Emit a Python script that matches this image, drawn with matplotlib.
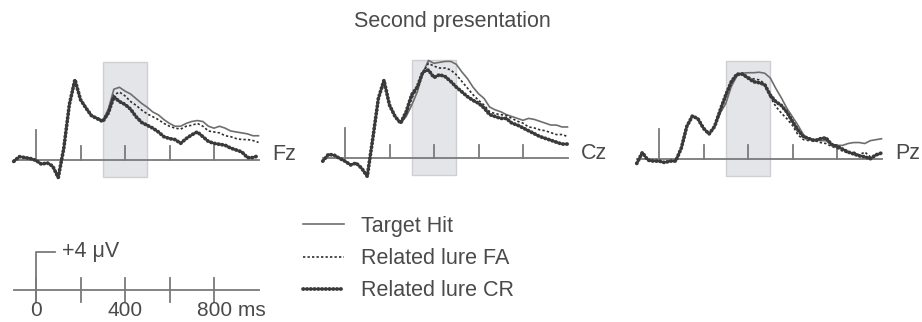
import numpy as np
import matplotlib
matplotlib.use("Agg")
import matplotlib.pyplot as plt
from matplotlib.lines import Line2D

plt.rcParams['font.family'] = ['Liberation Sans', 'DejaVu Sans']

# time grid (ms) and ERP amplitudes (uV)
times = np.arange(-100, 1001, 25)

fz_hit = [-0.2, 0.3, 0.2, 0.1, -0.1, -0.5, -0.35, -0.7, -1.9, 1.2, 5.8, 8.4, 6.3, 5.4, 4.6, 4.4, 4.1,
          5.3, 7.4, 7.6, 7.2, 6.9, 6.4, 5.9, 5.5, 5.0, 4.7, 4.2, 3.8, 3.5, 3.5, 3.8, 4.0, 4.1, 4.0,
          3.5, 3.3, 3.5, 3.3, 3.0, 2.9, 2.8, 2.7, 2.5, 2.5]
fz_fa = [-0.2, 0.3, 0.2, 0.1, -0.1, -0.5, -0.35, -0.7, -1.9, 1.2, 5.8, 8.4, 6.3, 5.4, 4.6, 4.4, 4.1,
         5.0, 6.8, 7.1, 6.7, 6.1, 5.7, 5.2, 4.8, 4.5, 4.2, 3.8, 3.5, 3.3, 3.2, 3.5, 3.6, 3.8, 3.5,
         3.0, 2.9, 2.8, 2.5, 2.4, 2.2, 2.1, 2.1, 2.0, 1.8]
fz_cr = [-0.2, 0.3, 0.2, 0.1, -0.1, -0.5, -0.35, -0.7, -1.9, 1.2, 5.8, 8.4, 6.3, 5.4, 4.6, 4.3, 4.0,
         4.9, 6.6, 6.1, 5.8, 5.3, 4.5, 3.9, 3.6, 3.3, 2.9, 2.4, 2.2, 2.1, 1.7, 2.2, 2.6, 2.9, 2.4,
         1.9, 1.7, 1.6, 1.5, 1.2, 1.0, 0.8, 0.2, 0.2, 0.4]

cz_pre = [-0.3, 0.4, 0.35, 0.0, -0.3, -0.7, -0.5, -1.05, -1.9, 2.1, 6.3, 8.2, 5.6, 4.4]
cz_hit = cz_pre + [3.7, 4.4, 5.6, 7.0, 9.0, 10.3, 10.0, 10.1, 10.2, 10.2, 9.9, 9.1, 8.4, 7.5, 6.8, 6.3,
                   5.4, 5.1, 4.9, 4.6, 4.4, 4.2, 4.0, 4.2, 4.1, 3.9, 3.7, 3.5, 3.5, 3.3, 3.3]
cz_fa = cz_pre + [3.7, 4.6, 6.3, 7.4, 9.0, 10.0, 9.7, 9.5, 9.5, 9.3, 8.8, 8.1, 7.4, 6.7, 6.1, 5.6,
                  4.9, 4.7, 4.6, 4.5, 4.2, 3.9, 3.7, 3.3, 3.2, 3.0, 2.9, 2.7, 2.5, 2.5, 2.3]
cz_cr = cz_pre + [3.7, 4.9, 6.7, 7.5, 9.1, 9.3, 8.5, 8.8, 8.6, 8.1, 7.5, 7.0, 6.5, 6.1, 5.8, 5.3,
                  4.6, 4.4, 4.2, 4.2, 3.7, 3.5, 3.2, 2.9, 2.6, 2.3, 2.1, 1.9, 1.7, 1.5, 1.5]

pz_pre = [-0.5, 0.65, -0.15, -0.25, -0.25, -0.4, -0.25, -0.25, 1.1, 3.4, 4.5, 4.2, 3.2, 2.6, 3.4]
pz_hit = pz_pre + [4.8, 5.8, 7.6, 8.7, 9.0, 9.05, 9.05, 9.1, 9.0, 8.5, 7.4, 6.4, 5.3, 4.4, 3.5,
                   2.5, 2.1, 2.0, 1.9, 1.9, 1.5, 1.4, 1.4, 1.6, 1.7, 1.7, 1.6, 1.9, 2.0, 2.1]
pz_fa = pz_pre + [5.0, 6.5, 7.9, 8.9, 9.0, 8.6, 8.4, 8.3, 7.9, 6.5, 5.5, 4.8, 4.2, 3.5, 2.5,
                  2.0, 1.9, 1.9, 1.7, 1.6, 1.3, 1.1, 0.8, 0.6, 0.7, 0.4, 0.7, 0.2, 0.4, 0.5]
pz_cr = pz_pre + [5.1, 6.7, 8.1, 8.9, 8.9, 8.5, 8.1, 8.0, 7.8, 6.7, 6.0, 5.6, 4.9, 3.9, 3.0,
                  2.3, 2.1, 1.9, 2.1, 2.2, 1.5, 1.3, 1.0, 0.7, 0.5, 0.3, 0.2, 0.0, 0.4, 0.6]

electrodes = ['Fz', 'Cz', 'Pz']
conditions = ['Target Hit', 'Related lure FA', 'Related lure CR']
tick_times = [0, 200, 400, 600, 800]
window = (300, 500)
scale_labels = ['0', '400', '800 ms']
scale_label_times = [0, 400, 800]

data = {'Fz': (fz_hit, fz_fa, fz_cr), 'Cz': (cz_hit, cz_fa, cz_cr), 'Pz': (pz_hit, pz_fa, pz_cr)}

W, H = 922, 322
PX_MS = 0.2225
PX_UV = 9.5
XLIM = (-130, 1030)
txt = '#4a4a4a'
axis_c = '#7a7a7a'

styles = [dict(color='#6e6e6e', lw=1.2, ls='-'),
          dict(color='#2e2e2e', lw=1.2, ls=(0, (1.4, 1.3))),
          dict(color='#3a3a3a', lw=2.7, ls=(0, (0.15, 0.85)), dash_capstyle='round')]

fig = plt.figure(figsize=(W / 100, H / 100), dpi=100)


def place_axes(x0, y0, ylim):
    left = x0 + XLIM[0] * PX_MS
    width = (XLIM[1] - XLIM[0]) * PX_MS
    bottom = y0 - ylim[0] * PX_UV
    height = (ylim[1] - ylim[0]) * PX_UV
    ax = fig.add_axes([left / W, (H - bottom) / H, width / W, height / H])
    ax.set_xlim(XLIM)
    ax.set_ylim(ylim)
    ax.axis('off')
    return ax


origins = [(36, 159.5), (345, 158.3), (659, 158.7)]
for name, (x0, y0) in zip(electrodes, origins):
    ax = place_axes(x0, y0, (-3, 11))
    ax.fill_between(window, -1.8, 10.3, facecolor='#e4e5e8', edgecolor='#cfd0d3', lw=1, zorder=0)
    ax.plot([-100, 1000], [0, 0], color=axis_c, lw=1.3, zorder=1)
    for t in tick_times:
        ax.plot([t, t], [0, 3.15 if t == 0 else 1.4], color=axis_c, lw=1.3, zorder=1)
    for vals, st in zip(data[name], styles):
        ax.plot(times, vals, zorder=3, **st)
    ax.text(1060, 0.55, name, fontsize=15.5, color=txt, ha='left', va='center')

# calibration bar
sax = place_axes(36, 290, (-4, 5))
sax.plot([-100, 1000], [0, 0], color=axis_c, lw=1.3)
for t in tick_times:
    sax.plot([t, t], [-1.3, 1.3], color=axis_c, lw=1.3)
sax.plot([0, 0, 85], [-1.3, 4.0, 4.0], color=axis_c, lw=1.3)
sax.text(115, 4.0, '+4 \u03bcV', fontsize=15.5, color=txt, ha='left', va='center')
for t, lab in zip(scale_label_times, scale_labels):
    if lab.endswith('ms'):
        sax.annotate(lab, (t, -2.2), xytext=(-17, 0), textcoords='offset pixels',
                     fontsize=15, color=txt, ha='left', va='center')
    else:
        sax.text(t, -2.2, lab, fontsize=15, color=txt, ha='center', va='center')

handles = [Line2D([], [], **st) for st in styles]
fig.legend(handles, conditions, loc='upper left', bbox_to_anchor=(303 / W, 1 - 216 / H),
           frameon=False, fontsize=15.5, handlelength=1.9, handletextpad=0.8,
           labelspacing=0.52, borderpad=0, borderaxespad=0, labelcolor=txt)

fig.text(452 / W, 1 - 22 / H, 'Second presentation', fontsize=15.5, color=txt,
         ha='center', va='center')

fig.savefig('out.png', dpi=100)
